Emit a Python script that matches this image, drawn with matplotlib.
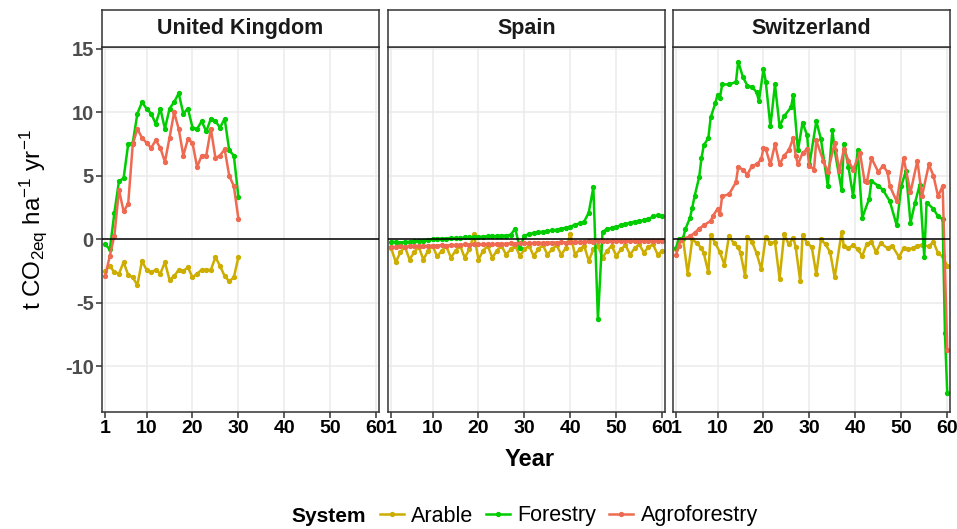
import matplotlib
matplotlib.use("Agg")
import matplotlib.pyplot as plt
from matplotlib import font_manager
from matplotlib.lines import Line2D


def have_font(name):
    try:
        font_manager.findfont(name, fallback_to_default=False)
        return True
    except ValueError:
        return False


narrow = "Liberation Sans Narrow" if have_font("Liberation Sans Narrow") else "Liberation Sans"

plt.rcParams["font.family"] = "Liberation Sans"
plt.rcParams["mathtext.fontset"] = "custom"
plt.rcParams["mathtext.rm"] = "Liberation Sans"
plt.rcParams["mathtext.it"] = "Liberation Sans"
plt.rcParams["axes.unicode_minus"] = False

# ---- data ----
countries = ["United Kingdom", "Spain", "Switzerland"]
systems = ["Arable", "Forestry", "Agroforestry"]
colors = ["#CDAD00", "#00CD00", "#EE6A50"]

uk_years = list(range(1, 31))
uk_arable = [-2.5, -2.1, -2.6, -2.7, -1.8, -2.8, -3.0, -3.6, -1.7, -2.4,
             -2.6, -2.4, -2.7, -1.8, -3.2, -2.9, -2.4, -2.5, -2.2, -3.0,
             -2.7, -2.4, -2.4, -2.4, -1.4, -2.1, -2.9, -3.3, -3.0, -1.4]
uk_forestry = [-0.4, -0.8, 2.1, 4.6, 4.8, 7.5, 7.6, 9.9, 10.8, 10.3,
               9.9, 9.1, 10.3, 8.7, 10.3, 10.8, 11.5, 9.9, 10.3, 8.8,
               8.7, 9.3, 8.5, 9.5, 9.3, 8.8, 9.5, 7.0, 6.6, 3.3]
uk_agro = [-2.9, -1.3, 0.3, 3.9, 2.2, 2.8, 7.5, 8.7, 8.0, 7.6,
           7.2, 7.8, 7.2, 6.1, 8.0, 10.0, 8.7, 6.6, 7.9, 7.6,
           5.7, 6.6, 6.6, 8.7, 6.4, 6.6, 7.1, 5.0, 4.2, 1.6]

es_years = list(range(1, 61))
es_arable = [-0.7, -1.8, -1.0, -0.6, -1.6, -1.0, -0.6, -1.6, -0.9, -0.5,
             -1.35, -0.9, -0.55, -1.45, -0.9, -0.5, -1.45, -0.8, 0.4, -1.6,
             -0.9, -0.5, -1.45, -0.9, -0.5, -1.2, -0.8, -0.5, -1.3, -0.8,
             -0.5, -1.3, -0.8, -0.45, -1.2, -0.8, -0.45, -1.2, -0.7, 0.4,
             -1.2, -0.8, -0.5, -1.7, -0.8, -0.5, -1.45, -0.9, -0.5, -1.3,
             -0.8, -0.45, -1.2, -0.7, -0.4, -1.05, -0.6, -0.4, -1.2, -0.9]
es_forestry = [-0.2, -0.2, -0.25, -0.2, -0.2, -0.15, -0.1, -0.1, -0.05, 0.0,
               0.05, 0.05, 0.05, 0.1, 0.1, 0.1, 0.15, 0.15, 0.2, 0.2,
               0.2, 0.25, 0.25, 0.25, 0.3, 0.3, 0.35, 0.85, -0.7, 0.3,
               0.4, 0.5, 0.55, 0.6, 0.65, 0.7, 0.75, 0.85, 0.9, 1.0,
               1.15, 1.25, 1.4, 2.1, 4.1, -6.3, 0.6, 0.8, 0.9, 1.0,
               1.1, 1.2, 1.3, 1.4, 1.45, 1.5, 1.6, 1.8, 1.9, 1.8]
es_agro = [-0.6, -0.6, -0.55, -0.6, -0.55, -0.55, -0.5, -0.55, -0.5, -0.5,
           -0.5, -0.45, -0.5, -0.45, -0.45, -0.45, -0.4, -0.45, -0.4, -0.4,
           -0.4, -0.35, -0.4, -0.35, -0.35, -0.35, -0.3, -0.35, -0.3, -0.3,
           -0.3, -0.3, -0.25, -0.3, -0.25, -0.25, -0.25, -0.2, -0.25, -0.2,
           -0.2, -0.2, -0.2, -0.15, -0.2, -0.15, -0.15, -0.15, -0.15, -0.1,
           -0.15, -0.1, -0.1, -0.15, -0.1, -0.1, -0.1, -0.1, -0.1, -0.1]

ch_arable_years = [1.0, 1.5, 2.5, 3.5, 4.5, 5.5, 6.5, 7.0, 8.0, 8.5,
                   9.5, 10.5, 11.5, 12.5, 13.5, 14.5, 15.0, 16.0, 16.5, 17.5,
                   18.5, 19.5, 20.5, 21.5, 22.5, 23.5, 24.5, 25.5, 26.5, 27.0,
                   28.0, 28.5, 29.5, 30.5, 31.5, 32.5, 33.5, 34.5, 35.5, 37.0,
                   37.5, 38.5, 39.5, 40.5, 41.5, 42.5, 43.5, 44.5, 45.5, 47.0,
                   48.0, 49.5, 50.5, 51.5, 52.5, 53.5, 54.5, 56.0, 57.0, 58.0,
                   59.0, 60.0]
ch_arable = [-0.8, -0.1, 0.0, -2.7, 0.0, -0.3, -0.7, -1.1, -2.6, 0.35,
             -0.3, -1.0, -2.0, 0.3, -0.3, -0.6, -1.1, -2.9, 0.2, -0.2,
             -1.1, -2.35, 0.2, -0.3, -0.2, -3.1, 0.4, -0.4, 0.1, -0.6,
             -3.3, 0.35, -0.3, -0.6, -2.75, 0.0, -0.4, -1.0, -3.0, 0.55,
             -0.55, -0.7, -0.45, -0.8, -1.3, -0.35, -0.2, -1.0, -0.3, -0.7,
             -0.5, -1.4, -0.7, -0.8, -0.7, -0.5, -0.45, -0.55, -0.2, -1.1,
             -1.35, -2.1]
ch_forestry_years = [1.0, 1.5, 2.5, 3.0, 4.0, 4.5, 5.0, 6.0, 6.5, 7.0,
                     8.0, 8.5, 9.5, 10.0, 10.5, 11.0, 12.5, 14.0, 14.5, 15.5,
                     16.5, 17.5, 18.5, 19.0, 20.0, 20.5, 21.5, 22.5, 23.5, 24.5,
                     26.0, 26.5, 27.5, 28.5, 29.5, 30.0, 31.5, 32.5, 34.0, 35.0,
                     35.5, 37.0, 37.5, 38.5, 39.5, 40.5, 41.5, 43.0, 43.5, 45.0,
                     46.0, 47.5, 49.0, 50.0, 51.0, 52.0, 53.0, 54.0, 55.0, 55.5,
                     57.0, 58.0, 59.0, 59.5, 60.0]
ch_forestry = [-0.65, 0.0, 0.1, 0.8, 1.7, 2.5, 3.4, 4.9, 6.4, 7.4,
               8.0, 9.6, 10.7, 11.4, 11.1, 12.2, 12.2, 12.4, 14.0, 12.8,
               12.1, 12.0, 11.6, 10.9, 13.4, 12.4, 8.9, 12.2, 8.9, 9.7,
               10.4, 11.4, 7.0, 9.2, 8.2, 5.9, 9.3, 7.9, 4.2, 8.6,
               7.0, 3.9, 7.5, 5.7, 3.4, 7.0, 1.7, 3.2, 4.6, 4.2,
               3.9, 3.0, 1.1, 4.2, 5.4, 1.3, 2.9, 4.3, -1.4, 2.9,
               2.4, 1.8, 1.6, -7.4, -12.1]
ch_agro_years = [1.0, 1.5, 2.0, 4.0, 5.0, 6.0, 7.0, 8.5, 9.0, 10.0,
                 10.5, 11.0, 12.5, 14.0, 14.5, 15.5, 16.5, 17.5, 18.5, 19.5,
                 20.0, 20.5, 21.5, 22.5, 23.5, 24.5, 25.5, 26.5, 27.0, 27.5,
                 28.5, 29.5, 30.0, 31.0, 31.5, 33.0, 34.0, 35.5, 36.5, 37.5,
                 38.5, 39.5, 41.0, 42.0, 42.5, 43.5, 45.0, 46.0, 47.0, 47.5,
                 49.0, 50.5, 52.0, 53.5, 54.5, 56.0, 57.0, 58.0, 59.0, 60.0]
ch_agro = [-1.2, -0.5, -0.05, 0.25, 0.5, 0.85, 1.1, 1.45, 1.85, 2.4,
           2.0, 3.4, 3.55, 4.5, 5.7, 5.5, 5.1, 5.8, 5.9, 6.3,
           7.2, 7.1, 5.9, 7.5, 5.9, 6.6, 7.0, 8.0, 6.6, 5.9,
           6.8, 7.1, 5.8, 5.5, 7.8, 6.2, 5.3, 7.6, 5.4, 7.1,
           6.2, 5.5, 6.8, 4.6, 4.5, 6.4, 5.3, 5.8, 5.3, 4.2,
           3.0, 6.4, 3.7, 6.2, 3.4, 5.9, 5.0, 3.4, 4.2, -8.7]

panel_series = [
    [(uk_years, uk_arable), (uk_years, uk_forestry), (uk_years, uk_agro)],
    [(es_years, es_arable), (es_years, es_forestry), (es_years, es_agro)],
    [(ch_arable_years, ch_arable), (ch_forestry_years, ch_forestry),
     (ch_agro_years, ch_agro)],
]

x_ticks = [1, 10, 20, 30, 40, 50, 60]
y_ticks = [-10, -5, 0, 5, 10, 15]

# ---- figure ----
W, H = 957, 529
fig = plt.figure(figsize=(W / 100, H / 100), dpi=100)

lefts = [102, 388, 673]
pw, top, bottom = 277, 47, 412
strip_top = 10
edge = "#333333"

for i, country in enumerate(countries):
    ax = fig.add_axes([lefts[i] / W, 1 - bottom / H, pw / W, (bottom - top) / H])
    for (xs, ys), c in zip(panel_series[i], colors):
        ax.plot(xs, ys, color=c, lw=1.8, marker="o", ms=2.8, mec=c, mfc=c,
                solid_joinstyle="round", zorder=2)
    ax.axhline(0, color="black", lw=1.1, zorder=3)
    ax.set_xlim(0.3, 60.6)
    ax.set_ylim(-13.6, 15.15)
    ax.set_xticks(x_ticks)
    ax.set_yticks(y_ticks)
    ax.grid(color="#EBEBEB", lw=1.1)
    ax.set_axisbelow(True)
    for s in ax.spines.values():
        s.set_color(edge)
        s.set_linewidth(1.1)
    ax.tick_params(direction="out", length=4, width=1.1, color=edge, pad=2)
    for lab in ax.get_xticklabels():
        lab.set_fontfamily(narrow)
        lab.set_fontweight("bold")
        lab.set_fontsize(14)
        lab.set_color("black")
    if i == 0:
        for lab in ax.get_yticklabels():
            lab.set_fontweight("bold")
            lab.set_fontsize(14.5)
            lab.set_color("#4D4D4D")
    else:
        ax.tick_params(axis="y", left=False, labelleft=False)

    sx = fig.add_axes([lefts[i] / W, 1 - top / H, pw / W, (top - strip_top) / H])
    sx.set_xticks([])
    sx.set_yticks([])
    sx.set_facecolor("white")
    for s in sx.spines.values():
        s.set_color(edge)
        s.set_linewidth(1.1)
    sx.text(0.5, 0.5, country, ha="center", va="center", fontsize=15.5,
            fontweight="bold", color="#1A1A1A", transform=sx.transAxes)

fig.text(530 / W, 1 - 460 / H, "Year", ha="center", va="center",
         fontsize=17, fontweight="bold")
fig.text(33 / W, 1 - 220 / H, r"t CO$_{2eq}$ ha$^{-1}$ yr$^{-1}$", rotation=90,
         ha="center", va="center", fontsize=17.5)

fig.text(291 / W, 1 - 516 / H, "System", ha="left", va="center",
         fontsize=15, fontweight="bold")
handles = [Line2D([], [], color=c, lw=1.8, marker="o", ms=2.8) for c in colors]
fig.legend(handles, systems, loc="center left",
           bbox_to_anchor=(380 / W, 1 - 516 / H), ncol=3, frameon=False,
           fontsize=15.5, handlelength=1.1, handletextpad=0.35,
           columnspacing=0.6, borderpad=0, borderaxespad=0, numpoints=1)

fig.savefig("out.png", dpi=100)
